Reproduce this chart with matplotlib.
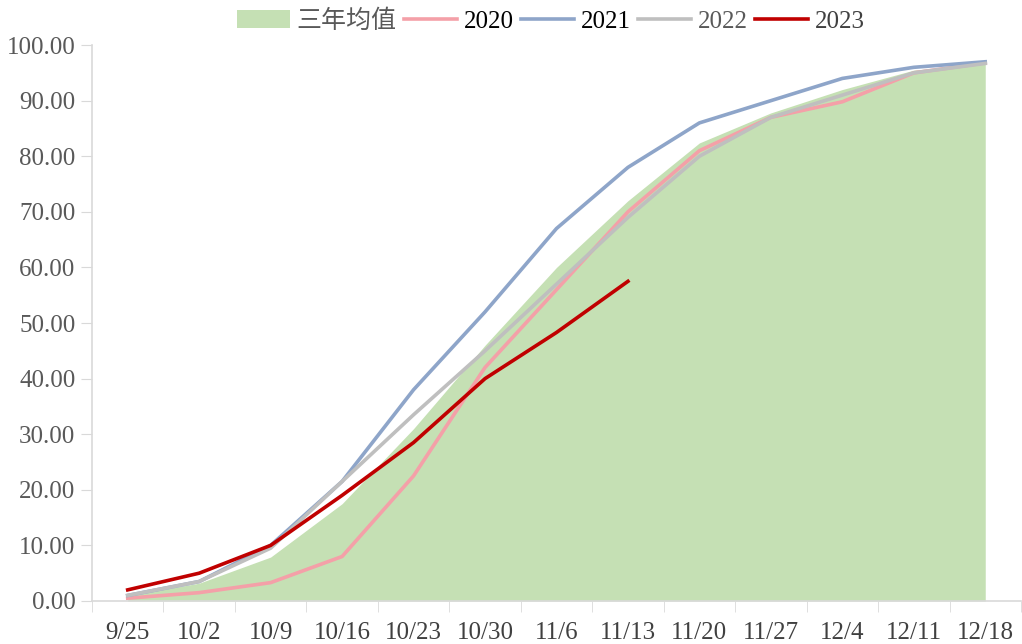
import matplotlib.pyplot as plt
import numpy as np

# weekly cumulative progress (%)
weeks = ['9/25', '10/2', '10/9', '10/16', '10/23', '10/30', '11/6',
         '11/13', '11/20', '11/27', '12/4', '12/11', '12/18']
avg3 = [1.0, 3.2, 7.9, 17.5, 31.0, 46.0, 60.0, 72.0, 82.4, 87.8, 92.0, 95.5, 96.6]
y2020 = [0.5, 1.5, 3.3, 8.0, 22.5, 42.0, 56.0, 70.0, 81.0, 87.0, 89.8, 95.0, 96.8]
y2021 = [1.0, 3.5, 10.0, 21.5, 38.0, 52.0, 67.0, 78.0, 86.0, 90.0, 94.0, 96.0, 97.0]
y2022 = [1.0, 3.5, 9.5, 21.5, 33.5, 45.0, 57.0, 69.0, 80.0, 87.0, 91.0, 95.0, 96.7]
y2023 = [2.0, 5.0, 10.0, 19.0, 28.5, 40.0, 48.3, 57.5]

plt.rcParams['font.family'] = ['Liberation Serif', 'Noto Sans CJK SC']

fig = plt.figure(figsize=(10.22, 6.44), dpi=100)
ax = fig.add_axes([0.09, 0.0668, 0.909, 0.8632])

x = np.arange(len(weeks))
lw = 2.6
ax.fill_between(x, avg3, 0, color='#C5E0B4', linewidth=0, label='三年均值')
ax.plot(x, y2020, color='#F4A0A8', lw=lw, label='2020')
ax.plot(x, y2021, color='#8EA5C9', lw=lw, label='2021')
ax.plot(x, y2022, color='#BFBFBF', lw=lw, label='2022')
ax.plot(np.arange(len(y2023)), y2023, color='#C00000', lw=lw, label='2023')

ax.set_xlim(-0.5, len(weeks) - 0.5)
ax.set_ylim(0, 100)
ax.set_yticks(np.arange(0, 101, 10))
ax.set_yticklabels(['%.2f' % v for v in np.arange(0, 101, 10)])
ax.set_xticks(x)
ax.set_xticklabels(weeks)
ax.set_xticks(np.arange(-0.5, len(weeks), 1), minor=True)
ax.tick_params(axis='x', which='major', length=0, pad=15, labelsize=18, colors='#404040')
ax.tick_params(axis='x', which='minor', length=8, color='#D9D9D9')
ax.tick_params(axis='y', length=8, color='#D9D9D9', labelsize=18, labelcolor='#595959', pad=4)

for s in ['top', 'right']:
    ax.spines[s].set_visible(False)
for s in ['left', 'bottom']:
    ax.spines[s].set_color('#D9D9D9')
    ax.spines[s].set_linewidth(1.2)

leg = ax.legend(loc='lower center', bbox_to_anchor=(0.494, 1.004), ncol=5, frameon=False,
                fontsize=18, handlelength=2.1, handletextpad=0.28, columnspacing=0.3,
                borderaxespad=0)
for t, c in zip(leg.get_texts(), ['#595959', 'black', 'black', '#595959', '#404040']):
    t.set_color(c)

fig.savefig('out.png', dpi=100)
